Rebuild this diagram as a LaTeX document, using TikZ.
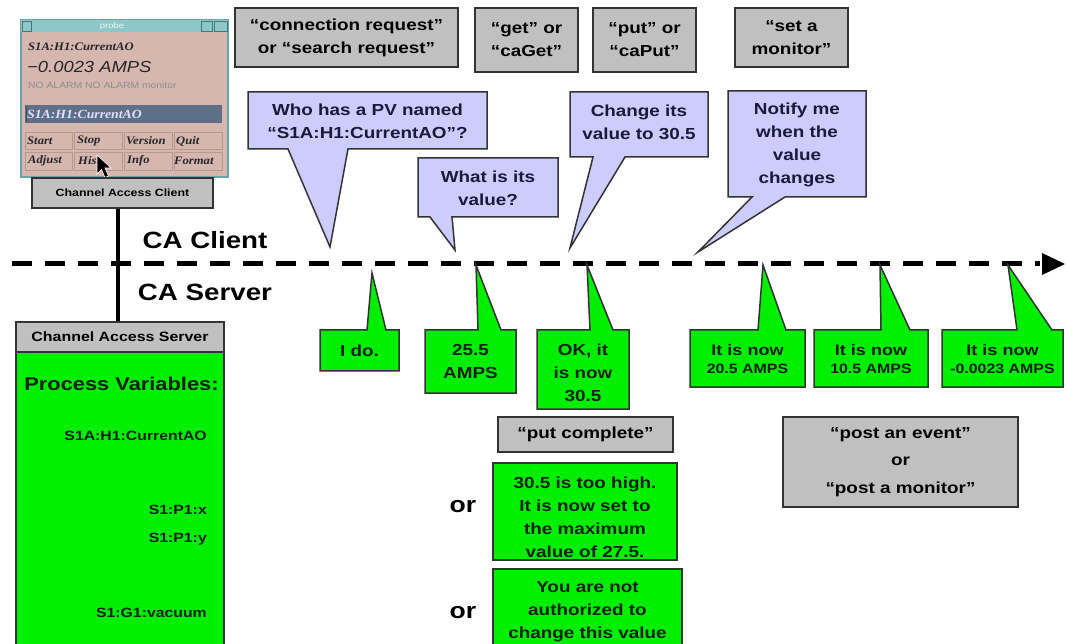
\documentclass[tikz,border=0pt]{standalone}
\usepackage{fontspec}
\setmainfont{Liberation Sans}[FakeStretch=1.18]
\newfontfamily\probeserif{Liberation Serif}[FakeStretch=1.1]
\newfontfamily\probesans{Liberation Sans}[FakeStretch=1.15]
\definecolor{boxgray}{HTML}{C0C0C0}
\definecolor{callblue}{HTML}{CCCCFF}
\definecolor{callgreen}{HTML}{00EE00}
\definecolor{edgecol}{HTML}{333333}
\definecolor{bluetext}{HTML}{1A1A3A}
\definecolor{greentext}{HTML}{0E200E}
\definecolor{probebody}{HTML}{D5B7AF}
\definecolor{probetitle}{HTML}{8CC8C8}
\definecolor{probeframe}{HTML}{6AA6A6}
\definecolor{probefield}{HTML}{5E6F88}
\definecolor{probebtn}{HTML}{B89890}
\newcommand{\mainfs}{\fontsize{16}{23}\selectfont\bfseries}
\newcommand{\smallfs}{\fontsize{15.3}{18.5}\selectfont\bfseries}
\newcommand{\bcall}[7]{\draw[bluecall] (#1,#2) -- (#3,#2) -- (#3,#4) -- (#6,#4) -- (#7) -- (#5,#4) -- (#1,#4) -- cycle;}
\newcommand{\gcall}[7]{\draw[greencall] (#1,#4) -- (#1,#2) -- (#5,#2) -- (#7) -- (#6,#2) -- (#3,#2) -- (#3,#4) -- cycle;}
\tikzset{
  graybox/.style={draw=edgecol, line width=1.5pt, fill=boxgray, inner sep=0pt, align=center, font=\mainfs, text=black},
  greenbox/.style={draw=edgecol, line width=1.5pt, fill=callgreen, inner sep=0pt, align=center, font=\mainfs, text=greentext},
  bluecall/.style={draw=edgecol, line width=1.5pt, fill=callblue, line join=miter},
  greencall/.style={draw=edgecol, line width=1.5pt, fill=callgreen, line join=miter},
  bluetxt/.style={align=center, font=\mainfs, inner sep=0pt, text=bluetext},
  greentxt/.style={align=center, font=\mainfs, inner sep=0pt, text=greentext},
  bigtxt/.style={font=\fontsize{23.5}{28}\selectfont\bfseries, inner sep=0pt, text=black},
  pvtxt/.style={font=\fontsize{13.4}{15}\selectfont\bfseries, inner sep=0pt, anchor=east, text=greentext},
  btntxt/.style={font=\probeserif\fontsize{11.5}{13}\selectfont\bfseries\itshape, inner sep=0pt, anchor=west, text=black!85},
  btncell/.style={draw=probebtn, line width=0.6pt, fill=probebody},
}
\begin{document}
\begin{tikzpicture}[x=1pt,y=-1pt]
\useasboundingbox (0,0) rectangle (1066,644);
\clip (0,0) rectangle (1066,644);
\fill[white] (0,0) rectangle (1066,644);

% ---------- probe window ----------
\draw[fill=probebody, draw=probeframe, line width=1.5pt] (21,20) rectangle (228,177);
\fill[probetitle] (21,20) rectangle (228,32);
\draw[probeframe!70!black, line width=0.5pt] (22,21) rectangle (31,31);
\draw[probeframe!70!black, line width=0.5pt] (201,21) rectangle (212,31);
\draw[probeframe!70!black, line width=0.5pt] (214,21) rectangle (227,31);
\node[font=\fontsize{8}{9}\selectfont, text=white!85!probetitle, inner sep=0pt] (ptitle) at (112,26) {probe};
\node[font=\probeserif\fontsize{11.5}{13}\selectfont\bfseries\itshape, inner sep=0pt, anchor=west, text=black!85] (pname) at (28,47) {S1A:H1:CurrentAO};
\node[font=\probesans\fontsize{16}{18}\selectfont\itshape, inner sep=0pt, anchor=west, text=black!85] (pval) at (27,67) {−0.0023 AMPS};
\node[font=\probesans\fontsize{9}{10}\selectfont, inner sep=0pt, anchor=west, text=black!45] (palarm) at (28,85) {NO ALARM NO ALARM monitor};
\fill[probefield] (25,105) rectangle (222,123);
\draw[black!70, line width=0.8pt] (26,106) -- (26,122);
\node[font=\probeserif\fontsize{12.5}{14}\selectfont\bfseries\itshape, inner sep=0pt, anchor=west, text=white!88!blue] (pfield) at (27,114) {S1A:H1:CurrentAO};
\foreach \xa/\xb in {25/72,74/122,124/172,174/222}{
  \draw[btncell] (\xa,132) rectangle (\xb,149);
  \draw[btncell] (\xa,152) rectangle (\xb,170);
}
\node[btntxt] (bstart) at (27,141) {Start};
\node[btntxt] (bstop) at (77,141) {Stop};
\node[btntxt] (bversion) at (126,141) {Version};
\node[btntxt] (bquit) at (176,141) {Quit};
\node[btntxt] (badjust) at (28,161) {Adjust};
\node[btntxt] (bhist) at (78,161) {Hist};
\node[btntxt] (binfo) at (127,161) {Info};
\node[btntxt] (bformat) at (174,161) {Format};
% mouse cursor
\draw[fill=black, draw=white, line width=0.6pt, line join=miter]
  (97,155) -- (97,174) -- (101.5,169.5) -- (105,177.5) -- (108.5,176) -- (105,168) -- (111,168) -- cycle;
\node[graybox, minimum width=181pt, minimum height=30pt, font=\fontsize{10.5}{12}\selectfont\bfseries] (cac) at (122.5,193) {Channel Access Client};

% ---------- client / server divider ----------
\coordinate (vx) at (118,0);
\coordinate (lstart) at (12,264);
\coordinate (lend) at (1040,264);
\draw[line width=5pt, dash pattern=on 20pt off 13pt] (lstart) -- (lend);
\coordinate (arrowtip) at (1065,264);
\fill[black] (1042,253) -- (arrowtip) -- (1042,275) -- cycle;
\node[bigtxt] (caclient) at (205,240) {CA Client};
\node[bigtxt] (caserver) at (205,292) {CA Server};

% ---------- server box ----------
\node[graybox, minimum width=208pt, minimum height=30pt, font=\fontsize{13.5}{15}\selectfont\bfseries] (cas) at (120,337) {Channel Access Server};
\draw[line width=4pt] (cac.south -| vx) -- (cas.north -| vx);
\draw[draw=edgecol, line width=1.5pt, fill=callgreen] (16,352) rectangle (224,700);
\node[font=\fontsize{18.5}{22}\selectfont\bfseries, inner sep=0pt, text=greentext] (pvhead) at (121.5,384) {Process Variables:};
\node[pvtxt] (pv1) at (207,436) {S1A:H1:CurrentAO};
\node[pvtxt] (pv2) at (207,510) {S1:P1:x};
\node[pvtxt] (pv3) at (207,539) {S1:P1:y};
\node[pvtxt] (pv4) at (207,613) {S1:G1:vacuum};

% ---------- top gray labels ----------
\node[graybox, minimum width=223pt, minimum height=59pt] (lreq) at (346.5,37.5) {“connection request”\\or “search request”};
\node[graybox, minimum width=103pt, minimum height=64pt] (lget) at (526.5,40) {“get” or\\“caGet”};
\node[graybox, minimum width=103pt, minimum height=64pt] (lput) at (644.5,40) {“put” or\\“caPut”};
\node[graybox, minimum width=113pt, minimum height=59pt] (lmon) at (791.5,37.5) {“set a\\monitor”};

% ---------- client requests (blue callouts) ----------
\coordinate (t1) at (330,247);
\coordinate (t2) at (455,250);
\coordinate (t3) at (570,248);
\coordinate (t4) at (698,252);
\bcall{248}{92}{487}{149}{288}{348}{t1}
\node[bluetxt] (q1) at (367.5,121.5) {Who has a PV named\\“S1A:H1:CurrentAO”?};
\bcall{418}{158}{558}{217}{430}{452}{t2}
\node[bluetxt] (q2) at (488,188) {What is its\\value?};
\bcall{570}{92}{708}{157}{593}{625}{t3}
\node[bluetxt] (q3) at (639,122) {Change its\\value to 30.5};
\bcall{728}{91}{866}{197}{752}{785}{t4}
\node[bluetxt] (q4) at (797,144.5) {Notify me\\when the\\value\\changes};

% ---------- server replies (green callouts) ----------
\coordinate (r1) at (372,273);
\coordinate (r2) at (476,265);
\coordinate (r3) at (587,265);
\coordinate (r4) at (763,265);
\coordinate (r5) at (880,265);
\coordinate (r6) at (1008,265);
\gcall{320}{330}{399}{371}{367}{386}{r1}
\node[greentxt] (a1) at (359.5,350.5) {I do.};
\gcall{425}{330}{516}{393}{478}{501}{r2}
\node[greentxt] (a2) at (470.5,361.5) {25.5\\AMPS};
\gcall{537}{330}{629}{409}{590}{613}{r3}
\node[greentxt] (a3) at (583,372.5) {OK, it\\is now\\30.5};
\gcall{690}{330}{805}{387}{758}{786}{r4}
\node[greentxt, font=\smallfs] (a4) at (747.5,359) {It is now\\{\fontsize{13.5}{15}\selectfont 20.5 AMPS}};
\gcall{814}{330}{928}{387}{881}{910}{r5}
\node[greentxt, font=\smallfs] (a5) at (871,359) {It is now\\{\fontsize{13.5}{15}\selectfont 10.5 AMPS}};
\gcall{942}{330}{1063}{387}{1017}{1052}{r6}
\node[greentxt, font=\smallfs] (a6) at (1002.5,359) {It is now\\{\fontsize{13.5}{15}\selectfont -0.0023 AMPS}};

% ---------- put outcomes ----------
\node[graybox, minimum width=175pt, minimum height=35pt] (lputc) at (585.5,434.5) {“put complete”};
\node[greenbox, minimum width=184pt, minimum height=97pt] (o1box) at (585,511.5) {};
\node[greentxt] (o1) at (585,517) {30.5 is too high.\\It is now set to\\the maximum\\value of 27.5.};
\node[greenbox, minimum width=189pt, minimum height=91pt] (o2box) at (587.5,614.5) {};
\node[greentxt] (o2) at (587.5,612) {You are not\\authorized to\\change this value};
\node[bigtxt, font=\fontsize{22.5}{26}\selectfont\bfseries] (or1) at (463,507) {or};
\node[bigtxt, font=\fontsize{22.5}{26}\selectfont\bfseries] (or2) at (463,613) {or};

% ---------- monitor label ----------
\node[graybox, minimum width=235pt, minimum height=90pt, font=\fontsize{16}{27.5}\selectfont\bfseries] (lpost) at (900.5,462) {“post an event”\\or\\“post a monitor”};
\end{tikzpicture}
\end{document}
